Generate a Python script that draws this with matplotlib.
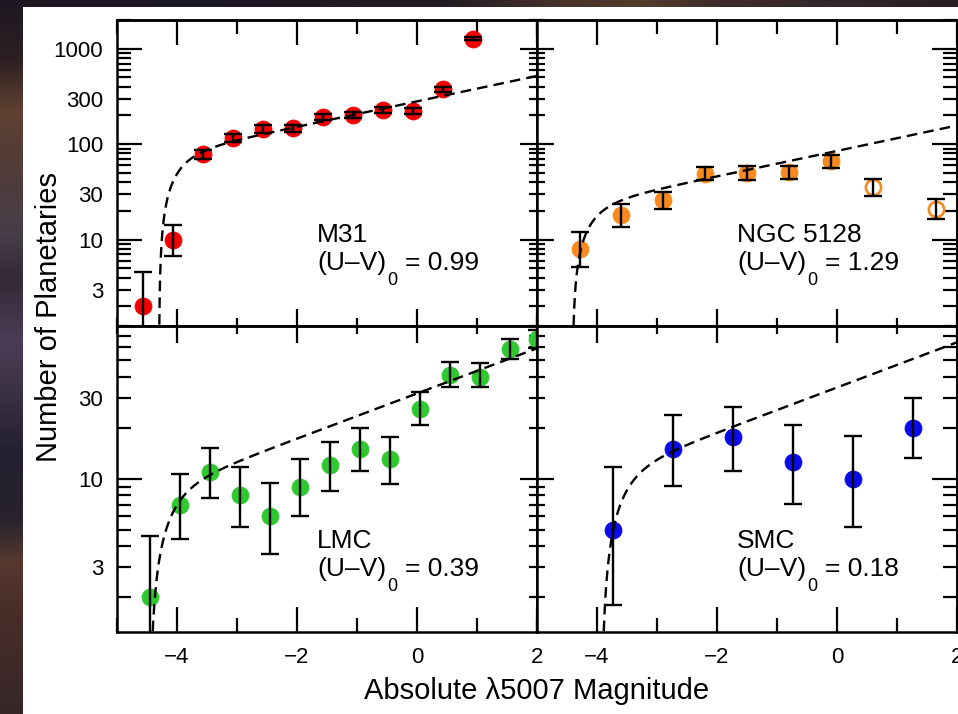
import numpy as np
import matplotlib
matplotlib.use("Agg")
import matplotlib.pyplot as plt
from matplotlib.ticker import MultipleLocator, LogLocator, FuncFormatter, NullFormatter
from matplotlib.transforms import offset_copy

plt.rcParams['font.family'] = ['Liberation Sans', 'DejaVu Sans']

# ---------------- data: binned PN counts (value, lower / upper 1-sigma limits)
m31_mag = [-4.56, -4.06, -3.56, -3.06, -2.56, -2.06, -1.56, -1.06, -0.56, -0.06, 0.44, 0.94]
m31_n = [2, 10, 78, 116, 144, 147, 191, 200, 228, 222, 375, 1280]
m31_lo = [0.7, 6.8, 69.2, 105.2, 132, 134.9, 177.2, 185.9, 212.9, 207.1, 355.6, 1244]
m31_hi = [4.6, 14.3, 87.9, 127.8, 157, 160.2, 205.9, 215.2, 244.1, 237.9, 395.4, 1317]
m31_open = [False] * 12

n5128_mag = [-4.29, -3.6, -2.9, -2.2, -1.5, -0.8, -0.1, 0.6, 1.65]
n5128_n = [8, 18, 26, 49, 50, 51, 66, 35.5, 21]
n5128_lo = [5.2, 13.7, 20.7, 42, 42, 43, 56, 29, 16.5]
n5128_hi = [11.9, 23.8, 31.5, 57, 59, 59, 76.5, 43, 26.4]
n5128_open = [False] * 7 + [True, True]

lmc_mag = [-4.45, -3.95, -3.45, -2.95, -2.45, -1.95, -1.45, -0.95, -0.45, 0.05, 0.55, 1.05, 1.55, 2.0]
lmc_n = [2, 7, 11, 8, 6, 9, 12, 15, 13, 26, 41, 40, 58, 67]
lmc_lo = [0.7, 4.4, 7.7, 5.2, 3.6, 6.0, 8.5, 11.1, 9.3, 20.8, 35, 34.7, 51, 59]
lmc_hi = [4.6, 10.7, 15.3, 11.8, 9.5, 13.1, 16.6, 19.9, 17.6, 32.7, 49, 48, 67, 76]
lmc_open = [False] * 14

smc_mag = [-3.73, -2.73, -1.73, -0.73, 0.27, 1.27]
smc_n = [5, 15, 17.6, 12.5, 10, 20]
smc_lo = [1.79, 9.1, 11.1, 7.1, 5.2, 13.3]
smc_hi = [11.7, 23.9, 26.7, 20.9, 18, 30]
smc_open = [False] * 6

# fitted luminosity-function parameters: cutoff M* and normalisation at M = 0
m31_fit = (-4.30, 281.0)
n5128_fit = (-4.41, 85.0)
lmc_fit = (-4.46, 31.9)
smc_fit = (-3.93, 34.6)

galaxy_names = ["M31", "NGC 5128", "LMC", "SMC"]
uv_colors = ["0.99", "1.29", "0.39", "0.18"]
point_colors = ["#f20000", "#f7891f", "#2fc92f", "#0b0be8"]

x_ticks_major = 2
x_ticks_minor = 1
x_range = (-5, 2)
y_range_top = (1.25, 2000)
y_range_bottom = (1.25, 80)


def pnlf(m, mstar, norm):
    """Empirical planetary-nebula luminosity function."""
    return norm * np.exp(0.307 * m) * (1.0 - np.exp(3.0 * (mstar - m)))


# ---------------- figure & layout
W, H = 958, 714
fig = plt.figure(figsize=(W / 100, H / 100), dpi=100)

# dark backdrop with a white sheet
left_keys_y = [0, 60, 110, 160, 230, 280, 340, 390, 450, 520, 560, 620, 714]
left_keys_c = [(30, 24, 34), (45, 32, 35), (95, 65, 50), (82, 60, 55), (72, 62, 72),
               (52, 42, 56), (76, 60, 86), (60, 50, 70), (35, 32, 48), (40, 35, 45),
               (86, 56, 46), (70, 45, 40), (55, 38, 40)]
top_keys_x = [0, 200, 450, 560, 640, 720, 850, 958]
top_keys_c = [(30, 24, 34), (26, 22, 34), (36, 28, 36), (70, 50, 42), (84, 60, 44),
              (60, 44, 40), (50, 38, 40), (40, 30, 36)]
ys = np.arange(H)
xs = np.arange(W)
left_col = np.stack([np.interp(ys, left_keys_y, [c[k] for c in left_keys_c]) for k in range(3)], axis=-1) / 255
top_row = np.stack([np.interp(xs, top_keys_x, [c[k] for c in top_keys_c]) for k in range(3)], axis=-1) / 255
img = np.repeat(left_col[:, None, :], W, axis=1)
img[:7, :, :] = top_row[None, :, :]
img[7:, 23:, :] = 1.0
bg = fig.add_axes([0, 0, 1, 1], zorder=-10)
bg.imshow(img, extent=[0, W, H, 0], aspect='auto', interpolation='nearest')
bg.axis('off')

ax_left, ax_mid, ax_right = 117 / W, 537 / W, 957 / W
ax_top, ax_hmid, ax_bot = 20 / H, 325.85 / H, 631.7 / H
cw = ax_mid - ax_left
rh = ax_hmid - ax_top
positions = [
    [ax_left, 1 - ax_hmid, cw, rh],
    [ax_mid, 1 - ax_hmid, ax_right - ax_mid, rh],
    [ax_left, 1 - ax_bot, cw, rh],
    [ax_mid, 1 - ax_bot, ax_right - ax_mid, rh],
]

panels = [
    (m31_mag, m31_n, m31_lo, m31_hi, m31_open, m31_fit, y_range_top),
    (n5128_mag, n5128_n, n5128_lo, n5128_hi, n5128_open, n5128_fit, y_range_top),
    (lmc_mag, lmc_n, lmc_lo, lmc_hi, lmc_open, lmc_fit, y_range_bottom),
    (smc_mag, smc_n, smc_lo, smc_hi, smc_open, smc_fit, y_range_bottom),
]

LW = 1.8
OUT_MAJ, OUT_MIN = 18, 10
IN_MAJ, IN_MIN = 12, 6
TICK_FS = 16
ANN_FS = 19


def ylabel_fmt(v, pos):
    return f"{v:g}"


def ylabel_minor_fmt(v, pos):
    mant = v / 10 ** np.floor(np.log10(v) + 1e-9)
    return f"{v:g}" if abs(mant - 3) < 1e-6 else ""


sub_texts = []
for i, (pos, panel) in enumerate(zip(positions, panels)):
    mag, n, lo, hi, is_open, (mstar, norm), yr = panel
    mag = np.asarray(mag, float)
    n = np.asarray(n, float)
    lo = np.asarray(lo, float)
    hi = np.asarray(hi, float)
    is_open = np.asarray(is_open, bool)
    col = point_colors[i]
    is_top = i < 2
    is_left = i % 2 == 0

    ax = fig.add_axes(pos)
    ax.set_yscale('log')
    ax.set_xlim(*x_range)
    ax.set_ylim(*yr)
    for sp in ax.spines.values():
        sp.set_linewidth(LW)

    # points
    ax.plot(mag[~is_open], n[~is_open], 'o', ms=12.2, mfc=col, mec=col, mew=0.6, zorder=2)
    if is_open.any():
        ax.plot(mag[is_open], n[is_open], 'o', ms=11.0, mfc='white', mec=col, mew=1.9, zorder=2)

    # luminosity-function fit
    mm = mstar + np.geomspace(1e-4, x_range[1] - mstar, 800)
    ax.plot(mm, pnlf(mm, mstar, norm), color='black', lw=1.7,
            ls=(0, (4.5, 2.6)), zorder=3)

    # error bars drawn over the symbols
    ax.errorbar(mag, n, yerr=[n - lo, hi - n], fmt='none', ecolor='black',
                elinewidth=1.7, capsize=6.5, capthick=1.7, zorder=4)

    # axis ticks (bottom / left)
    ax.xaxis.set_major_locator(MultipleLocator(x_ticks_major))
    ax.xaxis.set_minor_locator(MultipleLocator(x_ticks_minor))
    ax.yaxis.set_major_locator(LogLocator(base=10, numticks=20))
    ax.yaxis.set_minor_locator(LogLocator(base=10, subs=np.arange(2, 10), numticks=20))
    ax.yaxis.set_major_formatter(FuncFormatter(ylabel_fmt))
    ax.yaxis.set_minor_formatter(FuncFormatter(ylabel_minor_fmt))

    bmaj, bmin = (IN_MAJ, IN_MIN) if is_top else (OUT_MAJ, OUT_MIN)
    lmaj, lmin = (OUT_MAJ, OUT_MIN) if is_left else (IN_MAJ, IN_MIN)
    ax.tick_params(axis='x', which='major', direction='in', length=bmaj, width=1.6,
                   labelsize=TICK_FS, pad=11, labelbottom=not is_top)
    ax.tick_params(axis='x', which='minor', direction='in', length=bmin, width=1.6,
                   labelbottom=False)
    ax.tick_params(axis='y', which='major', direction='in', length=lmaj, width=1.6,
                   labelsize=TICK_FS, pad=10, labelleft=is_left)
    ax.tick_params(axis='y', which='minor', direction='in', length=lmin, width=1.6,
                   labelsize=TICK_FS, pad=10, labelleft=is_left)

    # ticks on the opposite sides
    tmaj, tmin = (OUT_MAJ, OUT_MIN) if is_top else (IN_MAJ, IN_MIN)
    rmaj, rmin = (IN_MAJ, IN_MIN) if is_left else (OUT_MAJ, OUT_MIN)
    sx = ax.secondary_xaxis('top')
    sx.xaxis.set_major_locator(MultipleLocator(x_ticks_major))
    sx.xaxis.set_minor_locator(MultipleLocator(x_ticks_minor))
    sx.tick_params(axis='x', which='major', direction='in', length=tmaj, width=1.6,
                   labeltop=False, labelbottom=False)
    sx.tick_params(axis='x', which='minor', direction='in', length=tmin, width=1.6,
                   labeltop=False, labelbottom=False)
    sx.spines['top'].set_linewidth(LW)
    sy = ax.secondary_yaxis('right')
    sy.yaxis.set_major_locator(LogLocator(base=10, numticks=20))
    sy.yaxis.set_minor_locator(LogLocator(base=10, subs=np.arange(2, 10), numticks=20))
    sy.yaxis.set_major_formatter(NullFormatter())
    sy.yaxis.set_minor_formatter(NullFormatter())
    sy.tick_params(axis='y', which='major', direction='in', length=rmaj, width=1.6,
                   labelright=False, labelleft=False)
    sy.tick_params(axis='y', which='minor', direction='in', length=rmin, width=1.6,
                   labelright=False, labelleft=False)
    sy.spines['right'].set_linewidth(LW)

    # galaxy name and colour index
    tx = 200 / 420
    ax.text(tx, 1 - 222.5 / 305.85, galaxy_names[i], transform=ax.transAxes,
            fontsize=ANN_FS, ha='left', va='baseline')
    t1 = ax.text(tx, 1 - 250 / 305.85, "(U\u2013V)", transform=ax.transAxes,
                 fontsize=ANN_FS, ha='left', va='baseline')
    sub_texts.append((ax, tx, t1, uv_colors[i]))

renderer = fig.canvas.get_renderer()
for ax, tx, t1, uv in sub_texts:
    y2 = 1 - 250 / 305.85
    w1 = t1.get_window_extent(renderer).width
    t2 = ax.text(tx, y2, "0", fontsize=13, ha='left', va='baseline',
                 transform=offset_copy(ax.transAxes, fig=fig, x=w1 + 1, y=-15, units='dots'))
    w2 = t2.get_window_extent(renderer).width
    ax.text(tx, y2, "= " + uv, fontsize=ANN_FS, ha='left', va='baseline',
            transform=offset_copy(ax.transAxes, fig=fig, x=w1 + 1 + w2 + 8, y=0, units='dots'))

fig.text(537 / W, 1 - 699.3 / H, "Absolute \u03bb5007 Magnitude", fontsize=21,
         ha='center', va='baseline')
fig.text(56.8 / W, 1 - 317.5 / H, "Number of Planetaries", fontsize=21,
         ha='center', va='baseline', rotation=90, rotation_mode='anchor')

fig.savefig("out.png", dpi=100)
